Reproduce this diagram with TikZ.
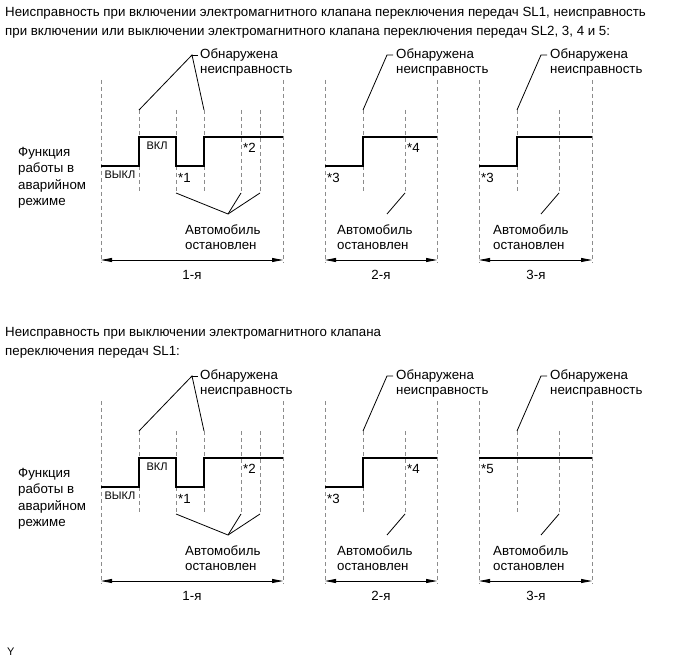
\documentclass[tikz,border=0pt]{standalone}
\usepackage{fontspec}
\setmainfont{Liberation Sans}
\usetikzlibrary{arrows.meta}
\tikzset{
  dashln/.style={draw=black!45, line width=0.6pt, dash pattern=on 4pt off 3pt},
  sig/.style={draw=black, line width=1.2pt},
  lead/.style={draw=black, line width=0.8pt},
  dimln/.style={draw=black, line width=0.8pt, {Triangle[length=11pt,width=4pt]}-{Triangle[length=11pt,width=4pt]}},
  txt/.style={inner sep=0pt, font=\fontsize{13.3}{15}\selectfont},
  small/.style={inner sep=0pt, font=\fontsize{11}{13}\selectfont},
}
\newcommand\faultdiag[1]{%
  % diagram 1
  \foreach \x in {101,283} \draw[dashln] (\x,80) -- (\x,263);
  \foreach \x in {139,176,204,241,260} \draw[dashln] (\x,110) -- (\x,193);
  \coordinate (d1a) at (139,110); \coordinate (d1b) at (204,110);
  \coordinate (d1p) at (192,55); \coordinate (d1t) at (198,55);
  \draw[lead] (d1a) -- (d1p) -- (d1b); \draw[lead] (d1p) -- (d1t);
  \node[txt,anchor=west] (d1n1) at (200,55) {Обнаружена};
  \node[txt,anchor=west] (d1n2) at (200,71) {неисправность};
  \coordinate (s1a) at (176,193); \coordinate (s1b) at (241,193); \coordinate (s1c) at (260,193);
  \coordinate (s1p) at (228,214);
  \draw[lead] (s1a) -- (s1p) -- (s1b); \draw[lead] (s1p) -- (s1c);
  \node[txt,anchor=west] (s1n1) at (185,230) {Автомобиль};
  \node[txt,anchor=west] (s1n2) at (185,246) {остановлен};
  \node[small] (off) at (120,175) {ВЫКЛ};
  \node[small] (on) at (157,146) {ВКЛ};
  \node[txt,anchor=west] (st1) at (178,178) {*1};
  \node[txt,anchor=west] (st2) at (243,148) {*2};
  \coordinate (m1l) at (101,260); \coordinate (m1r) at (283,260);
  \draw[dimln] (m1l) -- (m1r);
  \node[txt] (lab1) at (192,275) {1-я};
  \node[txt,anchor=west,align=left,font=\fontsize{13.3}{16.5}\selectfont] (func) at (18,178) {Функция\\работы в\\аварийном\\режиме};
  % diagram 2
  \foreach \x in {325,437} \draw[dashln] (\x,80) -- (\x,263);
  \foreach \x in {363,405} \draw[dashln] (\x,110) -- (\x,193);
  \draw[sig] (325,166) -- (363,166) -- (363,137) -- (437,137);
  \coordinate (d2a) at (363,110); \coordinate (d2p) at (387,55); \coordinate (d2t) at (393,55);
  \draw[lead] (d2a) -- (d2p) -- (d2t);
  \node[txt,anchor=west] (d2n1) at (396,55) {Обнаружена};
  \node[txt,anchor=west] (d2n2) at (396,71) {неисправность};
  \coordinate (s2a) at (405,193); \coordinate (s2p) at (387,214);
  \draw[lead] (s2a) -- (s2p);
  \node[txt,anchor=west] (s2n1) at (337,230) {Автомобиль};
  \node[txt,anchor=west] (s2n2) at (337,246) {остановлен};
  \node[txt,anchor=west] (st3) at (327,178) {*3};
  \node[txt,anchor=west] (st4) at (407,148) {*4};
  \coordinate (m2l) at (325,260); \coordinate (m2r) at (437,260);
  \draw[dimln] (m2l) -- (m2r);
  \node[txt] (lab2) at (381,275) {2-я};
  % diagram 3
  \foreach \x in {479,592} \draw[dashln] (\x,80) -- (\x,263);
  \foreach \x in {517,559} \draw[dashln] (\x,110) -- (\x,193);
  \coordinate (d3a) at (517,110); \coordinate (d3p) at (541,55); \coordinate (d3t) at (547,55);
  \draw[lead] (d3a) -- (d3p) -- (d3t);
  \node[txt,anchor=west] (d3n1) at (550,55) {Обнаружена};
  \node[txt,anchor=west] (d3n2) at (550,71) {неисправность};
  \coordinate (s3a) at (559,193); \coordinate (s3p) at (541,214);
  \draw[lead] (s3a) -- (s3p);
  \node[txt,anchor=west] (s3n1) at (493,230) {Автомобиль};
  \node[txt,anchor=west] (s3n2) at (493,246) {остановлен};
  \coordinate (m3l) at (479,260); \coordinate (m3r) at (592,260);
  \draw[dimln] (m3l) -- (m3r);
  \node[txt] (lab3) at (536,275) {3-я};
  % signal 1
  \draw[sig] (101,166) -- (139,166) -- (139,137) -- (176,137) -- (176,166) -- (204,166) -- (204,137) -- (283,137);
}
\begin{document}
\begin{tikzpicture}[x=1pt,y=-1pt]
\useasboundingbox (0,0) rectangle (690,660);
\node[txt,anchor=west] (t1a) at (5,13) {Неисправность при включении электромагнитного клапана переключения передач SL1, неисправность};
\node[txt,anchor=west] (t1b) at (5,32) {при включении или выключении электромагнитного клапана переключения передач SL2, 3, 4 и 5:};
\begin{scope}[name prefix=top-]
\faultdiag{}
\draw[sig] (479,166) -- (517,166) -- (517,137) -- (592,137);
\node[txt,anchor=west] (st3b) at (481,178) {*3};
\end{scope}
\node[txt,anchor=west] (t2a) at (5,333) {Неисправность при выключении электромагнитного клапана};
\node[txt,anchor=west] (t2b) at (5,352) {переключения передач SL1:};
\begin{scope}[name prefix=bot-, yshift=-321pt]
\faultdiag{}
\draw[sig] (479,137) -- (592,137);
\node[txt,anchor=west] (st5) at (481,148) {*5};
\end{scope}
\node[small,anchor=west] (ymark) at (7,652) {Y};
\end{tikzpicture}
\end{document}
